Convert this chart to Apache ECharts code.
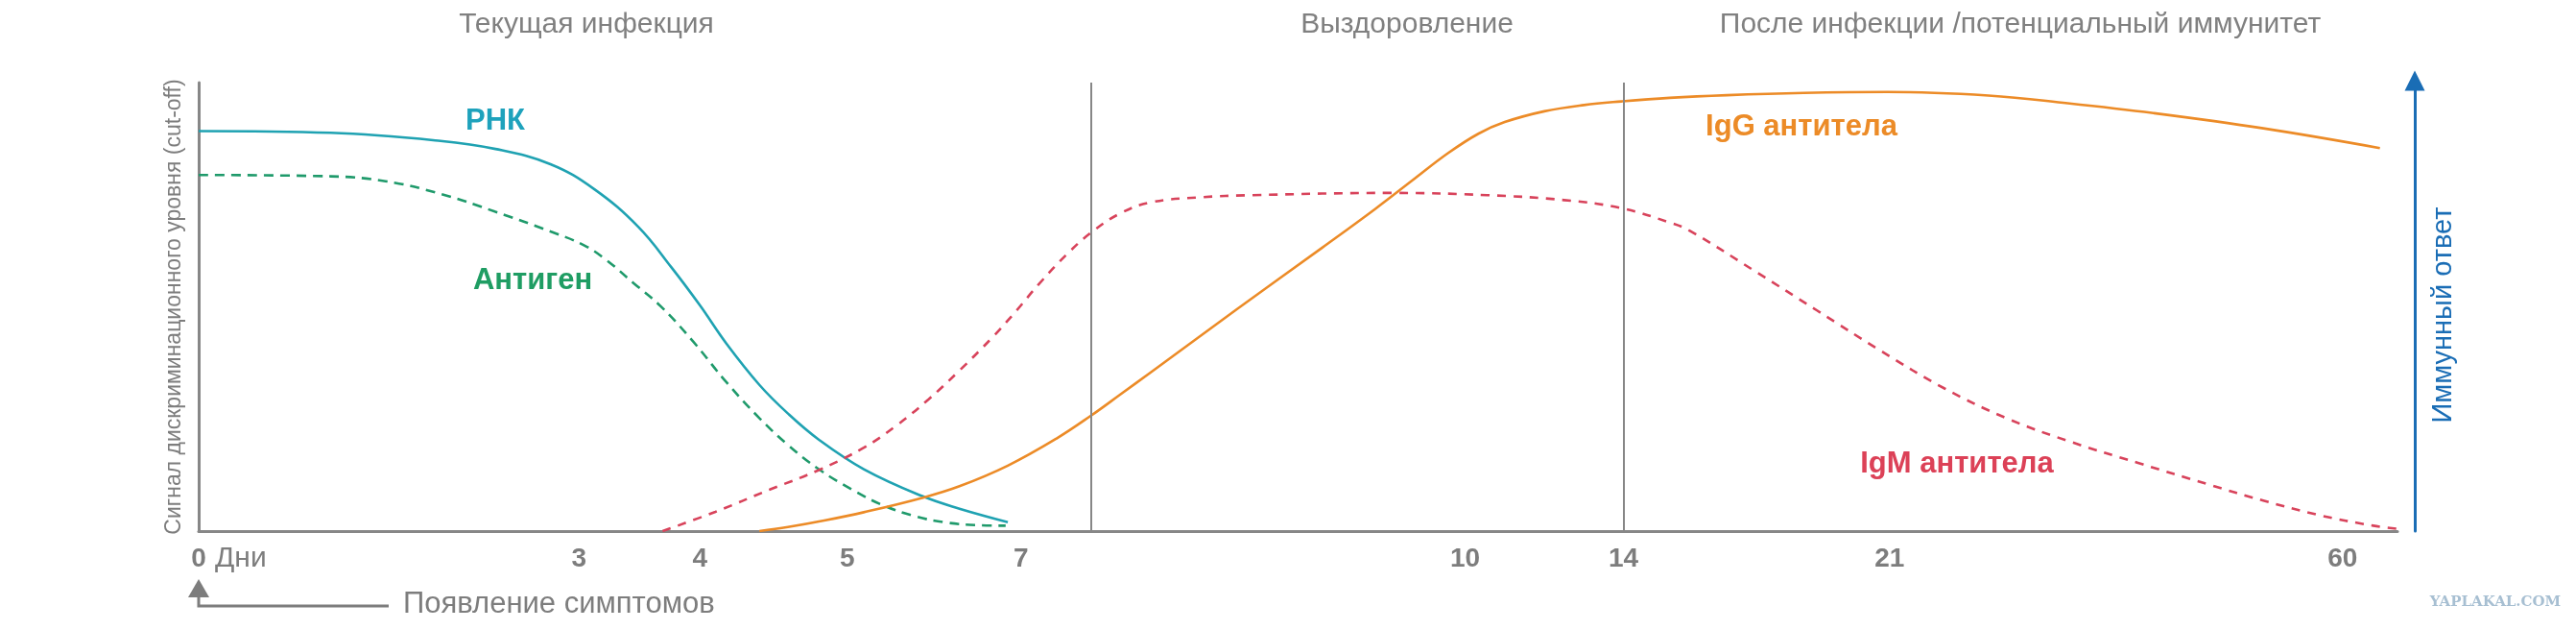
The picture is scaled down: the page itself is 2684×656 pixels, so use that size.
<!DOCTYPE html>
<html>
<head>
<meta charset="utf-8">
<script src="https://cdn.jsdelivr.net/npm/echarts@6/dist/echarts.min.js"></script>
<style>
html,body{margin:0;padding:0;background:#fff;}
#chart{width:2684px;height:656px;}
</style>
</head>
<body>
<div id="chart"></div>
<script>
// Timeline units: 0..100 along the (non-linear) day axis
const dayLabels = ['0', '3', '4', '5', '7', '10', '14', '21', '60'];
const dayPos = [0, 17.3, 22.8, 29.5, 37.4, 57.6, 64.8, 76.9, 97.5];
const phaseBounds = [40.6, 64.8];
const phaseTitles = ['Текущая инфекция', 'Выздоровление', 'После инфекции /потенциальный иммунитет'];

const rnaPoints = [[0,89.2],[6,88.8],[11,87.0],[13.5,85.2],[16,81.8],[18,76.2],[20,67.8],[21.5,58.8],[22.8,50.3],[24,41.8],[25.5,32.6],[26.8,26.2],[28.2,20.4],[30.25,13.8],[32.9,7.8],[34.6,5.0],[36.8,2.0]];
const antigenPoints = [[0,79.4],[6,79.1],[8.5,78],[11,75.2],[13.5,71.2],[16,66.8],[17.5,63.8],[18.5,60.6],[19.8,55.2],[21,50.2],[22.5,42.2],[24,33.2],[25.5,25.2],[26.8,19.2],[28.2,13.8],[29.7,9.3],[31.1,5.8],[32.6,3.3],[34,1.9],[35.5,1.3],[36.7,1.2]];
const igmPoints = [[21.1,0],[23.5,4.3],[26,9.3],[28.2,13.6],[30.25,18.6],[31.7,23.4],[33.2,29.4],[34.6,35.8],[36.1,43.2],[37.2,49.2],[38.2,55.0],[39.5,61.8],[40.6,66.6],[41.9,70.8],[43.3,73.3],[45.5,74.4],[47.9,74.9],[54.3,75.4],[58.6,74.9],[62.1,73.8],[64.7,72.0],[66.9,68.8],[67.8,67.0],[70.7,58.2],[73.6,49.2],[76.5,40.2],[79.4,31.8],[82.3,25.0],[85.2,19.8],[88.2,15.2],[91.4,10.4],[93.9,6.8],[96.4,3.6],[98.9,1.2],[100,0.5]];
const iggPoints = [[25.5,0],[26.8,0.9],[28.5,2.4],[30.25,4.2],[32.9,7.4],[34.6,10.0],[36.8,14.6],[39,20.6],[40.6,25.8],[41.9,30.4],[43.3,35.4],[47.2,49.4],[51.1,63.2],[53.5,71.8],[55.2,78.2],[56.8,84.2],[58.2,88.6],[59.4,91.2],[61.2,93.6],[63,95.0],[64.7,95.8],[66.9,96.6],[69.5,97.2],[73,97.7],[76.8,97.9],[81.4,97.1],[85,95.4],[88.9,93.2],[93.9,89.8],[99.2,85.4]];

const FONT = "'Liberation Sans', Arial, sans-serif";
const GRAY = '#7d7d7d';
const AXIS_GRAY = '#878787';
const BLUE = '#1a6db5';

const chart = echarts.init(document.getElementById('chart'));

function txt(text, x, y, size, color, weight, align, rotation) {
  return {
    type: 'text', x: x, y: y, rotation: rotation || 0,
    style: {
      text: text, fill: color, fontSize: size, fontFamily: FONT,
      fontWeight: weight || 'normal', align: align || 'center', verticalAlign: 'middle'
    }
  };
}

chart.setOption({
  backgroundColor: '#ffffff',
  animation: false,
  grid: { left: 207, right: 186, top: 86, bottom: 103, containLabel: false, outerBoundsMode: 'none' },
  xAxis: {
    type: 'value', min: 0, max: 100,
    splitLine: { show: false },
    axisTick: { show: false },
    axisLine: { show: true, lineStyle: { color: AXIS_GRAY, width: 3 } },
    axisLabel: {
      customValues: dayPos,
      formatter: function (v) {
        let best = 0;
        for (let i = 0; i < dayPos.length; i++) if (Math.abs(dayPos[i] - v) < Math.abs(dayPos[best] - v)) best = i;
        return dayLabels[best];
      },
      margin: 29, verticalAlign: 'middle',
      color: GRAY, fontSize: 28, fontWeight: 'bold', fontFamily: FONT
    }
  },
  yAxis: [{
    type: 'value', min: 0, max: 100,
    splitLine: { show: false },
    axisTick: { show: false },
    axisLabel: { show: false },
    axisLine: { show: true, lineStyle: { color: AXIS_GRAY, width: 3 } },
    name: 'Сигнал дискриминационного уровня (cut-off)',
    nameLocation: 'middle', nameRotate: 90, nameGap: 14,
    nameTextStyle: { color: GRAY, fontSize: 23, fontFamily: FONT }
  }, {
    type: 'value', min: 0, max: 100, position: 'right', offset: 18,
    splitLine: { show: false },
    axisTick: { show: false },
    axisLabel: { show: false },
    axisLine: {
      show: true, symbol: ['none', 'triangle'], symbolSize: [21, 21], symbolOffset: [0, 2],
      lineStyle: { color: BLUE, width: 3 }
    }
  }],
  series: [
    {
      name: 'РНК', type: 'line', data: rnaPoints, smooth: 0.4, symbol: 'none',
      lineStyle: { color: '#1fa2b2', width: 2.6 },
      markLine: {
        silent: true, symbol: 'none', label: { show: false },
        lineStyle: { color: AXIS_GRAY, width: 2, type: 'solid' },
        data: phaseBounds.map(function (b) { return { xAxis: b }; })
      }
    },
    {
      name: 'Антиген', type: 'line', data: antigenPoints, smooth: 0.4, symbol: 'none',
      lineStyle: { color: '#1f9a6b', width: 2.6, type: [10, 7] }
    },
    {
      name: 'IgM антитела', type: 'line', data: igmPoints, smooth: 0.4, symbol: 'none',
      lineStyle: { color: '#d8435b', width: 2.6, type: [9, 8] }
    },
    {
      name: 'IgG антитела', type: 'line', data: iggPoints, smooth: 0.4, symbol: 'none',
      lineStyle: { color: '#ec8b27', width: 2.6 }
    }
  ],
  graphic: [
    txt(phaseTitles[0], 611, 26, 30, '#808080'),
    txt(phaseTitles[1], 1466, 26, 30, '#808080'),
    txt(phaseTitles[2], 2105, 26, 30, '#808080'),
    txt('РНК', 516, 126, 31, '#1ea2bc', 'bold'),
    txt('Антиген', 555, 292, 31, '#1f9d63', 'bold'),
    txt('IgG антитела', 1877, 132, 31, '#ec8b27', 'bold'),
    txt('IgM антитела', 2039, 483, 31, '#dc4157', 'bold'),
    txt('Иммунный ответ', 2546, 328, 29, BLUE, 'normal', 'center', Math.PI / 2),
    txt('Дни', 224, 582, 30, GRAY, 'normal', 'left'),
    {
      type: 'polyline',
      shape: { points: [[405, 631], [207, 631], [207, 618]] },
      style: { stroke: GRAY, lineWidth: 3, fill: null }
    },
    {
      type: 'polygon',
      shape: { points: [[207, 603], [196, 622], [218, 622]] },
      style: { fill: GRAY }
    },
    txt('Появление симптомов', 420, 629, 31, GRAY, 'normal', 'left'),
    {
      type: 'text', x: 2600, y: 627,
      style: {
        text: 'YAPLAKAL.COM', fill: '#a7bfd2', fontSize: 15, fontWeight: 'bold',
        fontFamily: "'DejaVu Serif', serif", align: 'center', verticalAlign: 'middle'
      }
    }
  ]
});
</script>
</body>
</html>
